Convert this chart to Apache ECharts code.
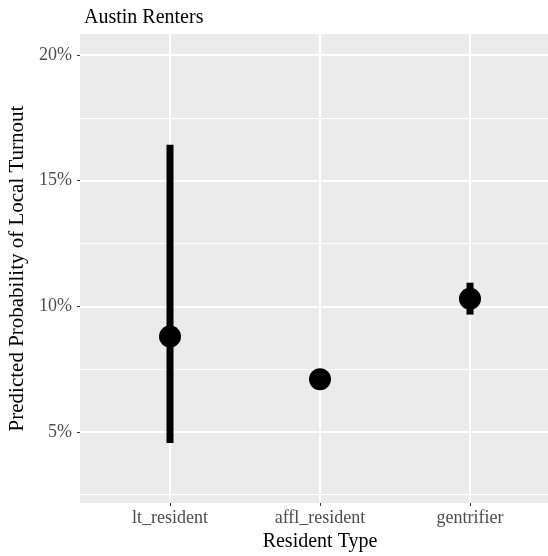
<!DOCTYPE html>
<html>
<head>
<meta charset="utf-8">
<script src="https://cdn.jsdelivr.net/npm/echarts@6/dist/echarts.min.js"></script>
<style>
  html, body { margin: 0; padding: 0; background: #fff; }
  #chart { width: 548px; height: 556px; }
</style>
</head>
<body>
<div id="chart"></div>
<script>
// resident types on the x axis (positions 1..3)
const categories = ['lt_resident', 'affl_resident', 'gentrifier'];
// predicted probability (%) and interval bounds
const estimates = [8.8, 7.1, 10.3];
const lower = [4.56, 6.95, 9.67];
const upper = [16.43, 7.25, 10.94];
const majorTicks = [5, 10, 15, 20];
const minorTicks = [2.5, 7.5, 12.5, 17.5];

const font = 'Liberation Serif, Times New Roman, serif';
const chart = echarts.init(document.getElementById('chart'));

const points = estimates.map((v, i) => [i + 1, v]);
const ranges = estimates.map((v, i) => [i + 1, lower[i], upper[i]]);

const option = {
    animation: false,
    title: {
        text: 'Austin Renters',
        left: 79,
        top: 3,
        textStyle: { fontFamily: font, fontSize: 20, fontWeight: 'normal', color: '#000' }
    },
    grid: {
        left: 80,
        top: 34,
        width: 480,
        bottom: 53,
        outerBoundsMode: 'none',
        containLabel: false,
        show: true,
        backgroundColor: '#EBEBEB',
        borderWidth: 0
    },
    xAxis: {
        type: 'value',
        min: 0.4,
        max: 3.6,
        name: 'Resident Type',
        nameLocation: 'middle',
        nameGap: 27,
        nameTextStyle: { fontFamily: font, fontSize: 20, color: '#000' },
        axisLine: { show: false },
        axisTick: { show: true, length: 3, customValues: [1, 2, 3], lineStyle: { color: '#333' } },
        axisLabel: {
            customValues: [1, 2, 3],
            formatter: (v) => categories[Math.round(v) - 1] || '',
            fontFamily: font,
            fontSize: 18,
            color: '#4D4D4D',
            margin: 6
        },
        splitLine: { show: true, lineStyle: { color: '#fff', width: 2 } }
    },
    yAxis: [{
        type: 'value',
        min: 2.17,
        max: 20.84,
        name: 'Predicted Probability of Local Turnout',
        nameLocation: 'middle',
        nameRotate: 90,
        nameGap: 47,
        nameTextStyle: { fontFamily: font, fontSize: 21, color: '#000' },
        axisLine: { show: false },
        axisTick: { show: true, length: 3, customValues: majorTicks, lineStyle: { color: '#333' } },
        axisLabel: {
            customValues: majorTicks,
            formatter: (v) => v + '%',
            fontFamily: font,
            fontSize: 18,
            color: '#4D4D4D',
            margin: 8
        },
        splitLine: { show: true, lineStyle: { color: '#fff', width: 2 } }
    }, {
        type: 'value',
        min: 2.17,
        max: 20.84,
        position: 'left',
        axisLine: { show: false },
        axisTick: { show: false, customValues: minorTicks },
        axisLabel: { show: false, customValues: minorTicks },
        splitLine: { show: true, lineStyle: { color: '#fff', width: 1 } }
    }],
    series: [{
        type: 'custom',
        data: ranges,
        renderItem: (params, api) => {
            const top = api.coord([api.value(0), api.value(2)]);
            const bot = api.coord([api.value(0), api.value(1)]);
            return {
                type: 'line',
                shape: { x1: top[0], y1: top[1], x2: bot[0], y2: bot[1] },
                style: { stroke: '#000', lineWidth: 7 }
            };
        },
        z: 3
    }, {
        type: 'scatter',
        data: points,
        symbol: 'circle',
        symbolSize: 22,
        itemStyle: { color: '#000', opacity: 1 },
        z: 4
    }]
};

chart.setOption(option);
</script>
</body>
</html>
